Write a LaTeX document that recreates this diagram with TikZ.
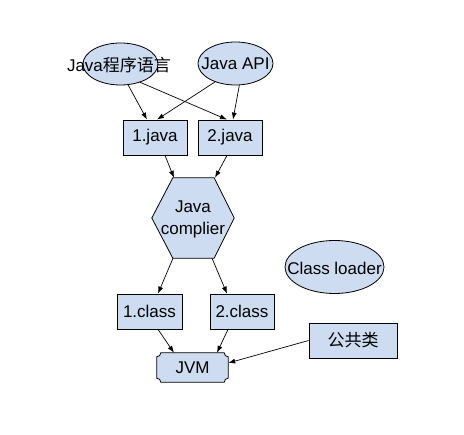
\documentclass[tikz,border=0pt]{standalone}
\usepackage{fontspec}
\setmainfont{Liberation Sans}
\newfontfamily\cjk{Noto Sans CJK SC}
\usetikzlibrary{arrows.meta,shapes.geometric,calc}
\definecolor{boxfill}{RGB}{205,220,240}
\begin{document}
\begin{tikzpicture}[x=1pt,y=-1pt,
  every node/.style={font=\fontsize{17}{22}\selectfont, inner sep=0pt},
  bx/.style={draw=black, line width=0.8pt, fill=boxfill, minimum width=64pt, minimum height=35pt},
  el/.style={ellipse, draw=black, line width=0.8pt, fill=boxfill},
  shp/.style={draw=black, line width=0.8pt, fill=boxfill},
  arr/.style={-{Latex[length=7pt,width=5pt]}, line width=0.7pt},
]
\useasboundingbox (0,0) rectangle (464,435);
% ellipses
\node[el, minimum width=75pt, minimum height=42pt] (e1) at (120.5,64) {};
\node (t1) at (119,65) {Java{\cjk 程序语言}};
\node[el, minimum width=75pt, minimum height=43pt] (e2) at (235.5,63.5) {};
\node (t2) at (235.5,64) {Java API};
\node[el, minimum width=99pt, minimum height=53pt] (cl) at (334.5,267) {};
\node (t3) at (334.5,268) {Class loader};
% boxes
\node[bx] (j1) at (155,137.5) {1.java};
\node[bx] (j2) at (230,137.5) {2.java};
\node[bx, minimum width=65pt] (c1) at (149.5,311.5) {1.class};
\node[bx] (c2) at (242,311.5) {2.class};
\node[bx, minimum width=88pt] (pub) at (353,340.5) {\cjk 公共类};
% hexagon
\node[minimum width=82pt, minimum height=80pt] (hex) at (193,218) {};
\filldraw[shp] (hex.west) -- ([xshift=21pt]hex.north west) -- ([xshift=-20pt]hex.north east)
  -- (hex.east) -- ([xshift=-20pt]hex.south east) -- ([xshift=21pt]hex.south west) -- cycle;
\node[align=center] (ht) at (193,219) {Java\\complier};
% JVM
\node[minimum width=71pt, minimum height=29pt] (jvm) at (192.5,367.5) {};
\filldraw[shp] ([xshift=4pt]jvm.north west) -- ([xshift=-4pt]jvm.north east) arc[start angle=180,end angle=90,radius=4]
  -- ([yshift=4pt]jvm.south east) arc[start angle=270,end angle=180,radius=4]
  -- ([xshift=4pt]jvm.south west) arc[start angle=0,end angle=-90,radius=4]
  -- ([yshift=-4pt]jvm.north west) arc[start angle=90,end angle=0,radius=4] -- cycle;
\node (jt) at (jvm) {JVM};
% arrows
\draw[arr] (e1.290) -- ([xshift=-8pt]j1.north);
\draw[arr] (e1.317) -- ([xshift=-3pt]j2.north);
\draw[arr] (e2.222) -- ([xshift=2pt]j1.north);
\draw[arr] (e2.280) -- ([xshift=3pt]j2.north);
\draw[arr] ([xshift=10pt]j1.south) -- ([xshift=-19pt]hex.north);
\draw[arr] ([xshift=-3pt]j2.south) -- ([xshift=22pt]hex.north);
\draw[arr] ([xshift=-20pt]hex.south) -- ([xshift=8.5pt]c1.north);
\draw[arr] ([xshift=19pt]hex.south) -- ([xshift=-15pt]c2.north);
\draw[arr] ([xshift=8.5pt]c1.south) -- ([xshift=-18.5pt]jvm.north);
\draw[arr] ([xshift=-14pt]c2.south) -- ([xshift=24.5pt]jvm.north);
\draw[arr] (pub.west) -- ([yshift=4.5pt]jvm.east);
\end{tikzpicture}
\end{document}
